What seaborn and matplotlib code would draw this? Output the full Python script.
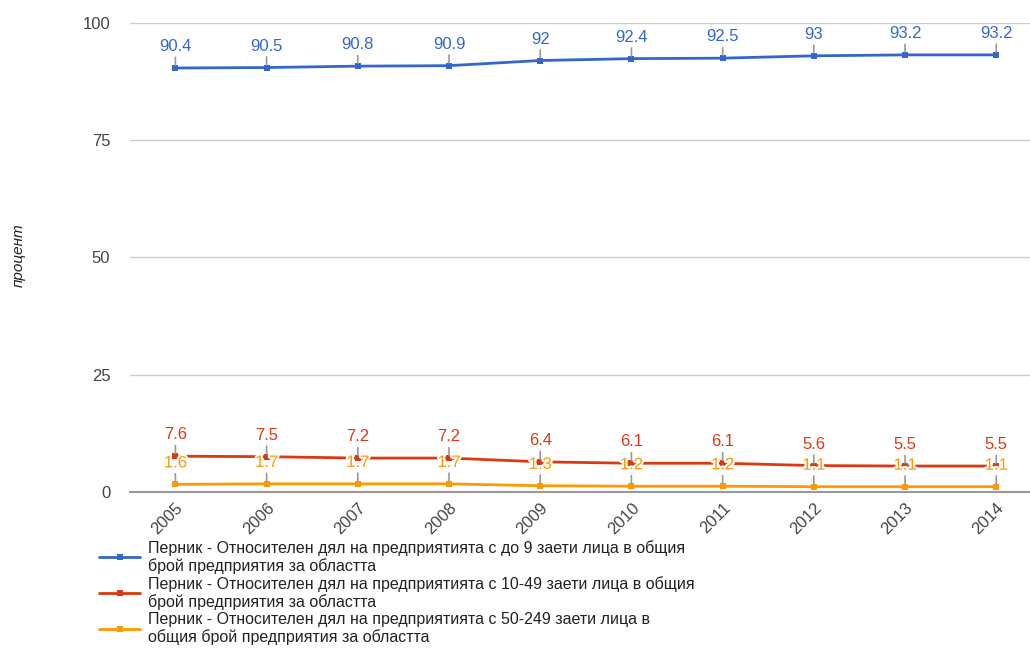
import pandas as pd
import matplotlib
matplotlib.use('Agg')
import matplotlib.pyplot as plt
import matplotlib.patheffects as pe
import seaborn as sns

# Данни, разчетени от графиката
godini = [2005, 2006, 2007, 2008, 2009, 2010, 2011, 2012, 2013, 2014]
do_9 = [90.4, 90.5, 90.8, 90.9, 92, 92.4, 92.5, 93, 93.2, 93.2]
ot_10_49 = [7.6, 7.5, 7.2, 7.2, 6.4, 6.1, 6.1, 5.6, 5.5, 5.5]
ot_50_249 = [1.6, 1.7, 1.7, 1.7, 1.3, 1.2, 1.2, 1.1, 1.1, 1.1]

serii = [
    'Перник - Относителен дял на предприятията с до 9 заети лица в общия\nброй предприятия за областта',
    'Перник - Относителен дял на предприятията с 10-49 заети лица в общия\nброй предприятия за областта',
    'Перник - Относителен дял на предприятията с 50-249 заети лица в\nобщия брой предприятия за областта',
]
cvetove = ['#3366cc', '#dc3912', '#ff9900']

df = pd.DataFrame({
    'година': godini * 3,
    'стойност': do_9 + ot_10_49 + ot_50_249,
    'серия': [serii[0]] * 10 + [serii[1]] * 10 + [serii[2]] * 10,
})

sns.set_theme(style='white')
plt.rcParams['font.family'] = ['Liberation Sans', 'DejaVu Sans']

fig = plt.figure(figsize=(10.3, 6.48), dpi=100)
ax = fig.add_axes([0.126, 0.241, 0.874, 0.7235])

sns.lineplot(data=df, x='година', y='стойност', hue='серия', palette=cvetove,
             marker='s', markersize=5, markeredgewidth=0, linewidth=2, ax=ax,
             legend=True)

# етикети над точките
for vals, c in zip([do_9, ot_10_49, ot_50_249], cvetove):
    for g, v in zip(godini, vals):
        t = ax.annotate(f'{v:g}', xy=(g, v), xytext=(0, 10), textcoords='offset points',
                        ha='center', va='bottom', fontsize=12, color=c,
                        arrowprops=dict(arrowstyle='-', color='#999999', lw=1.2,
                                        shrinkA=0, shrinkB=2))
        if c == '#ff9900':
            t.set_path_effects([pe.withStroke(linewidth=3, foreground='white')])

ax.set_ylim(0, 100)
ax.set_xlim(2004.5, 2014.37)
ax.set_yticks([0, 25, 50, 75, 100])
ax.set_xticks(godini)
ax.set_xticklabels([str(g) for g in godini], rotation=45, ha='right',
                   rotation_mode='anchor', fontsize=12, color='#444444')
ax.tick_params(axis='y', labelsize=12, labelcolor='#444444', pad=14, length=0)
ax.tick_params(axis='x', length=0, pad=6)
ax.grid(axis='y', color='#cccccc', linewidth=1)
for s in ['top', 'right', 'left']:
    ax.spines[s].set_visible(False)
ax.spines['bottom'].set_color('#999999')
ax.spines['bottom'].set_linewidth(1.5)
ax.set_xlabel('')
ax.set_ylabel('')
fig.text(0.018, 0.607, 'процент', rotation=90, style='italic', fontsize=11,
         color='#222222', ha='center', va='center')

handles, labels = ax.get_legend_handles_labels()
ax.get_legend().remove()
fig.legend(handles, labels, loc='upper left', bbox_to_anchor=(0.082, 0.189),
           frameon=False, fontsize=11.5, handlelength=2.6, handletextpad=0.45,
           labelspacing=0.1, labelcolor='#222222')

fig.savefig('out.png', dpi=100)
